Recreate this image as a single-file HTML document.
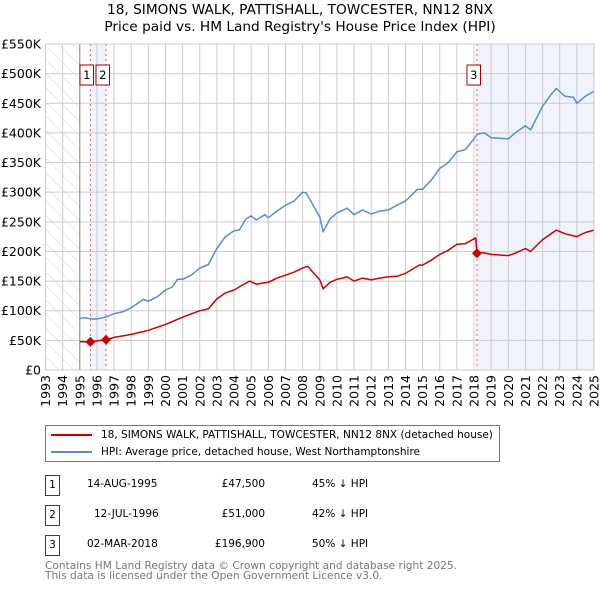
<!DOCTYPE html>
<html><head><meta charset="utf-8">
<style>
body{margin:0;background:#fff;font-family:"DejaVu Sans","Liberation Sans",sans-serif;}
#wrap{position:relative;width:600px;height:590px;overflow:hidden;}
svg text{font-family:"DejaVu Sans","Liberation Sans",sans-serif;}
.nw{white-space:nowrap;}
</style></head>
<body>
<div id="wrap">
<svg id="chart" width="600" height="590"></svg>
</div>
<script>
const years=[1993,1994,1995,1996,1997,1998,1999,2000,2001,2002,2003,2004,2005,2006,2007,2008,2009,2010,2011,2012,2013,2014,2015,2016,2017,2018,2019,2020,2021,2022,2023,2024,2025];
const yTicks=[0,50000,100000,150000,200000,250000,300000,350000,400000,450000,500000,550000];
const yTickLabels=["£0","£50K","£100K","£150K","£200K","£250K","£300K","£350K","£400K","£450K","£500K","£550K"];
const hpiT=[1995.0,1995.3,1995.7,1996.0,1996.5,1997.0,1997.5,1998.0,1998.7,1999.0,1999.5,2000.0,2000.4,2000.7,2001.0,2001.5,2002.0,2002.5,2003.0,2003.5,2004.0,2004.3,2004.7,2005.0,2005.3,2005.8,2006.0,2006.5,2007.0,2007.5,2008.0,2008.2,2008.5,2009.0,2009.2,2009.6,2010.0,2010.6,2011.0,2011.5,2012.0,2012.5,2013.0,2013.5,2014.0,2014.7,2015.0,2015.5,2016.0,2016.5,2017.0,2017.5,2018.0,2018.2,2018.6,2019.0,2020.0,2020.4,2021.0,2021.3,2022.0,2022.5,2022.8,2023.3,2023.8,2024.0,2024.5,2025.0];
const hpiV=[87000,88000,86000,86000,89000,95000,98000,105000,119000,116000,123000,135000,140000,153000,153000,160000,172000,178000,205000,225000,235000,236000,255000,260000,253000,262000,257000,268000,278000,285000,300000,299000,284000,258000,233000,255000,265000,273000,262000,270000,263000,268000,270000,278000,285000,305000,305000,320000,340000,350000,368000,372000,390000,398000,400000,392000,390000,400000,412000,405000,445000,465000,475000,462000,460000,450000,462000,470000];
const ppT=[1995.0,1995.62,1996.53,1997.0,1998.0,1999.0,2000.0,2001.0,2002.0,2002.5,2003.0,2003.5,2004.0,2004.9,2005.3,2006.0,2006.5,2007.0,2007.5,2008.0,2008.3,2008.6,2009.0,2009.2,2009.6,2010.0,2010.6,2011.0,2011.5,2012.0,2012.5,2013.0,2013.5,2014.0,2014.8,2015.0,2015.5,2016.0,2016.5,2017.0,2017.5,2018.1,2018.17,2018.5,2019.0,2020.0,2020.4,2021.0,2021.3,2022.0,2022.8,2023.3,2024.0,2024.5,2025.0];
const ppV=[47500,47500,51000,55000,60000,67000,77000,89000,100000,103000,120000,130000,135000,150000,145000,148000,155000,160000,165000,172000,175000,165000,152000,137000,148000,153000,157000,150000,155000,152000,155000,157000,158000,163000,177000,177000,185000,195000,202000,212000,213000,223000,196900,198000,195000,193000,197000,205000,200000,220000,236000,230000,225000,232000,236000];
const saleT=[1995.62,1996.53,2018.17];
const saleV=[47500,51000,196900];
const saleLabels=["1","2","3"];

const svg=document.getElementById('chart');
const NS='http://www.w3.org/2000/svg';
const X0=45.5,X1=594,Y0=370,Y1=44;
const xs=t=>X0+(t-1993)/(2025-1993)*(X1-X0);
const ys=v=>Y0-v/550000*(Y0-Y1);
function mk(tag,attrs,parent){const e=document.createElementNS(NS,tag);for(const k in attrs)e.setAttribute(k,attrs[k]);(parent||svg).appendChild(e);return e;}

const defs=mk('defs',{});
const pat=mk('pattern',{id:'hatch',width:10,height:10,patternUnits:'userSpaceOnUse',patternTransform:'rotate(-45)'},defs);
mk('line',{x1:0,y1:0,x2:0,y2:10,stroke:'#d4d4d4','stroke-width':1},pat);

const hatch=mk('rect',{x:X0,y:Y1,width:xs(1995)-X0,height:Y0-Y1,fill:'url(#hatch)'});


const sh1=mk('rect',{x:xs(saleT[0]),y:Y1,width:xs(saleT[1])-xs(saleT[0]),height:Y0-Y1,fill:'#eef3fc'});


const sh2=mk('rect',{x:xs(saleT[2]),y:Y1,width:X1-xs(saleT[2]),height:Y0-Y1,fill:'#eef3fc'});



years.forEach(y=>{const l=mk('line',{x1:xs(y),x2:xs(y),y1:Y1,y2:Y0,stroke:'#ccc','stroke-width':1});

});
yTicks.forEach(v=>{const l=mk('line',{x1:X0,x2:X1,y1:ys(v),y2:ys(v),stroke:'#ccc','stroke-width':1});

});
const ax=mk('line',{x1:xs(1995),x2:xs(1995),y1:Y1,y2:Y0,stroke:'#888','stroke-width':1});



yTicks.forEach((v,i)=>{const t=mk('text',{x:41,y:ys(v)+4.5,'text-anchor':'end','font-size':'12.5',fill:'#000'});t.textContent=yTickLabels[i];

});
years.forEach(y=>{const t=mk('text',{x:0,y:0,'text-anchor':'end','font-size':'12.5',fill:'#000',transform:`translate(${xs(y)+4.5},375) rotate(-90)`});t.textContent=y;

});

saleT.forEach((s,i)=>{const l=mk('line',{x1:xs(s),x2:xs(s),y1:Y1,y2:Y0,stroke:'#e06060','stroke-width':1,'stroke-dasharray':'2,3'});

});

function path(T,V,color,name){let d='';T.forEach((t,i)=>{d+=(i?'L':'M')+xs(t).toFixed(1)+','+ys(V[i]).toFixed(1);});
const p=mk('path',{d:d,fill:'none',stroke:color,'stroke-width':1.5,'stroke-linejoin':'round'});

}
path(hpiT,hpiV,'#5b8bd0','hpi-line');
path(ppT,ppV,'#cc0000','price-paid-line');

saleT.forEach((s,i)=>{const cx=xs(s),cy=ys(saleV[i]);
const d=mk('path',{d:`M${cx},${cy-5}L${cx+5},${cy}L${cx},${cy+5}L${cx-5},${cy}Z`,fill:'#cc0000'});

});

const boxX=[80,96,467];
saleT.forEach((s,i)=>{const g=mk('g',{});


mk('rect',{x:boxX[i],y:65,width:13.5,height:20,fill:'#fff',stroke:'#aa0000','stroke-width':1},g);
const t=mk('text',{x:boxX[i]+6.8,y:79,'text-anchor':'middle','font-size':'11.5',fill:'#000'},g);t.textContent=saleLabels[i];});

const br=mk('rect',{x:X0,y:Y1,width:X1-X0,height:Y0-Y1,fill:'none',stroke:'#ccc','stroke-width':1});


</script>
<div style="position:absolute;left:0;top:2px;width:600px;text-align:center;font-size:13.7px;line-height:17px;font-family:'DejaVu Sans','Liberation Sans',sans-serif;">18, SIMONS WALK, PATTISHALL, TOWCESTER, NN12 8NX<br>Price paid vs. HM Land Registry's House Price Index (HPI)</div>
<div style="position:absolute;left:45px;top:425px;width:453px;height:35px;border:1px solid #777;font-size:10.5px;font-family:'DejaVu Sans','Liberation Sans',sans-serif;">
 <div class="nw" style="position:absolute;left:5px;top:3px;"><span style="display:inline-block;width:41px;height:2px;background:#cc0000;vertical-align:middle;margin-right:9px;"></span>18, SIMONS WALK, PATTISHALL, TOWCESTER, NN12 8NX (detached house)</div>
 <div class="nw" style="position:absolute;left:5px;top:20px;"><span style="display:inline-block;width:41px;height:2px;background:#5b8bd0;vertical-align:middle;margin-right:9px;"></span>HPI: Average price, detached house, West Northamptonshire</div>
</div>
<div style="position:absolute;left:0;top:0;width:600px;height:590px;font-size:10.5px;font-family:'DejaVu Sans','Liberation Sans',sans-serif;">
 <div style="position:absolute;left:45px;top:475px;width:13px;height:19px;border:1px solid #cc0000;text-align:center;line-height:18px;">1</div>
 <div class="nw" style="position:absolute;left:87px;top:478px;">14-AUG-1995</div>
 <div class="nw" style="position:absolute;left:195px;top:478px;width:70px;text-align:right;">£47,500</div>
 <div class="nw" style="position:absolute;left:312px;top:478px;">45% ↓ HPI</div>
 <div style="position:absolute;left:45px;top:505px;width:13px;height:19px;border:1px solid #cc0000;text-align:center;line-height:18px;">2</div>
 <div class="nw" style="position:absolute;left:94px;top:508px;">12-JUL-1996</div>
 <div class="nw" style="position:absolute;left:195px;top:508px;width:70px;text-align:right;">£51,000</div>
 <div class="nw" style="position:absolute;left:312px;top:508px;">42% ↓ HPI</div>
 <div style="position:absolute;left:45px;top:535px;width:13px;height:19px;border:1px solid #cc0000;text-align:center;line-height:18px;">3</div>
 <div class="nw" style="position:absolute;left:87px;top:538px;">02-MAR-2018</div>
 <div class="nw" style="position:absolute;left:195px;top:538px;width:70px;text-align:right;">£196,900</div>
 <div class="nw" style="position:absolute;left:312px;top:538px;">50% ↓ HPI</div>
</div>
<div class="nw" style="position:absolute;left:45px;top:561px;font-size:10.6px;line-height:10px;color:#777;font-family:'DejaVu Sans','Liberation Sans',sans-serif;">Contains HM Land Registry data © Crown copyright and database right 2025.<br>This data is licensed under the Open Government Licence v3.0.</div>
</body></html>
